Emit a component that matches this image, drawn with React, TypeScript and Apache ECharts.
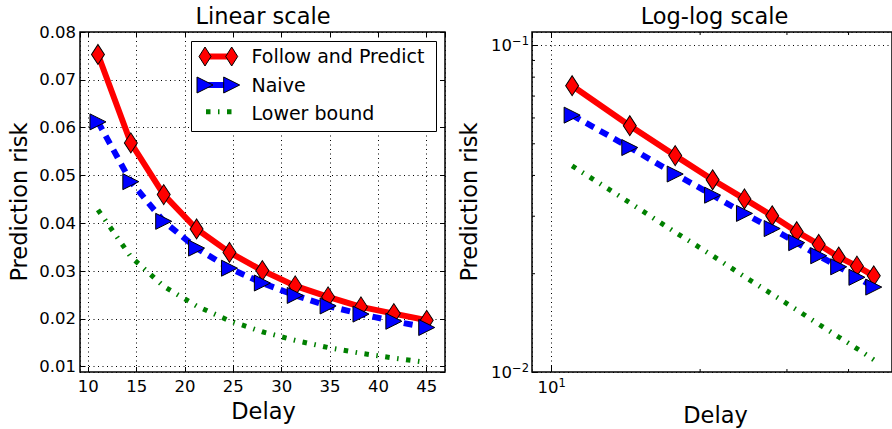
import React, { useEffect, useRef } from "react";
import * as echarts from "echarts";

// ---- data ----
const delays = [11, 14.4, 17.8, 21.2, 24.6, 28, 31.4, 34.8, 38.2, 41.6, 45];
const followPredict = [0.0753, 0.0568, 0.046, 0.0388, 0.0339, 0.0301, 0.0269, 0.0246, 0.0225, 0.0211, 0.0197];
const naive = [0.0612, 0.0487, 0.0404, 0.0348, 0.0306, 0.0275, 0.0249, 0.0227, 0.021, 0.0195, 0.0182];
const lowerBound = [0.0428, 0.033, 0.0268, 0.0227, 0.0196, 0.0173, 0.0155, 0.014, 0.0128, 0.0118, 0.0109];

const seriesNames = ["Follow and Predict", "Naive", "Lower bound"];
const titles = ["Linear scale", "Log-log scale"];
const xLabel = "Delay";
const yLabel = "Prediction risk";

// axis extents
const linX = [9.142, 46.89];
const linY = [0.00889, 0.08];
const logX = [9.12, 49.0];
const logY = [0.01, 0.11];
const logXMinor = [20, 30, 40];
const logYMinor = [0.02, 0.03, 0.04, 0.05, 0.06, 0.07, 0.08, 0.09];

const FONT = '"DejaVu Sans", "Liberation Sans", sans-serif';
const TICK_FS = 16.5;
const LABEL_FS = 22.5;
const LEGEND_FS = 19;

const pairs = (ys: number[]) => delays.map((x, i) => [x, ys[i]]);

const dotted = { color: "#000", width: 1, type: [1, 3.5] as number[] };

function supFormatter(v: number) {
  const e = Math.round(Math.log10(v));
  const s = (e < 0 ? "\u2212" : "") + Math.abs(e);
  return "{b|10}{s|" + s + "}";
}
const supRich = {
  b: { fontSize: TICK_FS, fontFamily: FONT, color: "#000" },
  s: { fontSize: 11.5, fontFamily: FONT, color: "#000", padding: [0, 0, 9, 0] },
};

function makeSeries(xi: number, yi: number) {
  return [
    {
      name: seriesNames[0],
      type: "line",
      xAxisIndex: xi,
      yAxisIndex: yi,
      data: pairs(followPredict),
      symbol: "diamond",
      symbolSize: [13, 20],
      lineStyle: { color: "#ff0000", width: 6 },
      itemStyle: { color: "#ff0000", borderColor: "#000", borderWidth: 1 },
      z: 2,
      silent: true,
      emphasis: { disabled: true },
    },
    {
      name: seriesNames[1],
      type: "line",
      xAxisIndex: xi,
      yAxisIndex: yi,
      data: pairs(naive),
      symbol: "triangle",
      symbolRotate: -90,
      symbolSize: [16, 16],
      lineStyle: { color: "#0000ff", width: 6, type: [9, 7] },
      itemStyle: { color: "#0000ff", borderColor: "#000", borderWidth: 1 },
      z: 3,
      silent: true,
      emphasis: { disabled: true },
    },
    {
      name: seriesNames[2],
      type: "line",
      xAxisIndex: xi,
      yAxisIndex: yi,
      data: pairs(lowerBound),
      symbol: "none",
      lineStyle: { color: "#008000", width: 5, type: [4.5, 7.5, 1.5, 7.5] },
      z: 4,
      silent: true,
      emphasis: { disabled: true },
    },
  ];
}

function txt(text: string, x: number, y: number, fs: number, extra: any = {}) {
  return {
    type: "text",
    x,
    y,
    silent: true,
    z: 100,
    ...extra,
    style: {
      text,
      fontSize: fs,
      fontFamily: FONT,
      fill: "#000",
      align: extra.align || "center",
      verticalAlign: "middle",
    },
  };
}

function legendGraphics() {
  const g: any[] = [];
  g.push({
    type: "rect",
    z: 100,
    silent: true,
    shape: { x: 191.5, y: 41.5, width: 245, height: 90 },
    style: { fill: "#fff", stroke: "#000", lineWidth: 1 },
  });
  const r1 = 56.5, r2 = 85, r3 = 111.7;
  const xa = 205, xb = 231.7;
  g.push({ type: "line", z: 101, silent: true, shape: { x1: xa, y1: r1, x2: xb, y2: r1 }, style: { stroke: "#ff0000", lineWidth: 6 } });
  [xa, xb].forEach((cx) =>
    g.push({
      type: "polygon", z: 102, silent: true,
      shape: { points: [[cx, r1 - 9.5], [cx + 6, r1], [cx, r1 + 9.5], [cx - 6, r1]] },
      style: { fill: "#ff0000", stroke: "#000", lineWidth: 1 },
    })
  );
  g.push({ type: "line", z: 101, silent: true, shape: { x1: xa, y1: r2, x2: xb, y2: r2 }, style: { stroke: "#0000ff", lineWidth: 6 } });
  [xa, xb].forEach((cx) =>
    g.push({
      type: "polygon", z: 102, silent: true,
      shape: { points: [[cx - 8, r2 - 8], [cx + 8, r2], [cx - 8, r2 + 8]] },
      style: { fill: "#0000ff", stroke: "#000", lineWidth: 1 },
    })
  );
  g.push({
    type: "line", z: 101, silent: true,
    shape: { x1: 206, y1: r3, x2: 231.5, y2: r3 },
    style: { stroke: "#008000", lineWidth: 5, lineDash: [4.5, 7.5, 1.5, 7.5] },
  });
  g.push(txt(seriesNames[0], 251.5, 56.3, LEGEND_FS, { align: "left" }));
  g.push(txt(seriesNames[1], 251.5, 85.2, LEGEND_FS, { align: "left" }));
  g.push(txt(seriesNames[2], 251.5, 113, LEGEND_FS, { align: "left" }));
  return g;
}

function staticGraphics() {
  return [
    txt(titles[0], 263, 16, LABEL_FS),
    txt(titles[1], 714.5, 16, LABEL_FS),
    txt(xLabel, 263.5, 411, LABEL_FS),
    txt(xLabel, 715.5, 415, LABEL_FS),
    txt(yLabel, 19, 202, LABEL_FS, { rotation: Math.PI / 2 }),
    txt(yLabel, 469, 202, LABEL_FS, { rotation: Math.PI / 2 }),
    ...legendGraphics(),
  ];
}

export default function App() {
  const ref = useRef<HTMLDivElement>(null);
  useEffect(() => {
    if (!ref.current) return;
    const chart = echarts.init(ref.current, undefined, { renderer: "svg" });
    const tickStyle = { inside: true, length: 5, lineStyle: { color: "#000", width: 1 } };
    const linLabel = { fontSize: TICK_FS, fontFamily: FONT, color: "#000", showMinLabel: false, showMaxLabel: false };
    const option: any = {
      animation: false,
      backgroundColor: "#fff",
      grid: [
        { left: 80, top: 32, width: 365, height: 340, show: true, borderColor: "#000", borderWidth: 1.5, backgroundColor: "transparent" },
        { left: 532, top: 32, width: 365, height: 340, show: true, borderColor: "#000", borderWidth: 1.5, backgroundColor: "transparent" },
      ],
      xAxis: [
        {
          gridIndex: 0, type: "value", position: "bottom", min: linX[0], max: linX[1], splitNumber: 7,
          axisLine: { show: false }, axisTick: tickStyle,
          axisLabel: { ...linLabel, margin: 6 },
          splitLine: { show: true, lineStyle: dotted },
        },
        {
          gridIndex: 0, type: "value", position: "top", min: linX[0], max: linX[1], splitNumber: 7,
          axisLine: { show: false }, axisTick: tickStyle, axisLabel: { show: false }, splitLine: { show: false },
        },
        {
          gridIndex: 1, type: "log", logBase: 10, position: "bottom", min: logX[0], max: logX[1],
          axisLine: { show: false }, axisTick: { ...tickStyle, length: 6 },
          axisLabel: { formatter: supFormatter, rich: supRich, margin: 5, showMinLabel: false, showMaxLabel: false },
          splitLine: { show: true, lineStyle: dotted },
        },
        {
          gridIndex: 1, type: "log", logBase: 10, position: "top", min: logX[0], max: logX[1],
          axisLine: { show: false }, axisTick: { ...tickStyle, length: 6 }, axisLabel: { show: false }, splitLine: { show: false },
        },
      ],
      yAxis: [
        {
          gridIndex: 0, type: "value", position: "left", min: linY[0], max: linY[1], splitNumber: 7,
          axisLine: { show: false }, axisTick: tickStyle,
          axisLabel: { ...linLabel, showMaxLabel: true, margin: 4 },
          splitLine: { show: true, lineStyle: dotted },
        },
        {
          gridIndex: 0, type: "value", position: "right", min: linY[0], max: linY[1], splitNumber: 7,
          axisLine: { show: false }, axisTick: tickStyle, axisLabel: { show: false }, splitLine: { show: false },
        },
        {
          gridIndex: 1, type: "log", logBase: 10, position: "left", min: logY[0], max: logY[1],
          axisLine: { show: false }, axisTick: { ...tickStyle, length: 6 },
          axisLabel: { formatter: supFormatter, rich: supRich, margin: 3, showMinLabel: true, showMaxLabel: false },
          splitLine: { show: true, lineStyle: dotted },
        },
      ],
      series: [...makeSeries(0, 0), ...makeSeries(2, 2)],
      graphic: { elements: staticGraphics() },
    };
    chart.setOption(option);

    // minor ticks on the log-log panel, positioned through the axes
    const minor: any[] = [];
    const yTop = chart.convertToPixel({ yAxisIndex: 2 }, logY[1]) as number;
    const yBot = chart.convertToPixel({ yAxisIndex: 2 }, logY[0]) as number;
    const xLeft = chart.convertToPixel({ xAxisIndex: 2 }, logX[0]) as number;
    logXMinor.forEach((v) => {
      const px = chart.convertToPixel({ xAxisIndex: 2 }, v) as number;
      minor.push({ type: "line", z: 50, silent: true, shape: { x1: px, y1: yBot, x2: px, y2: yBot - 3 }, style: { stroke: "#000", lineWidth: 1 } });
      minor.push({ type: "line", z: 50, silent: true, shape: { x1: px, y1: yTop, x2: px, y2: yTop + 3 }, style: { stroke: "#000", lineWidth: 1 } });
    });
    logYMinor.forEach((v) => {
      const py = chart.convertToPixel({ yAxisIndex: 2 }, v) as number;
      minor.push({ type: "line", z: 50, silent: true, shape: { x1: xLeft, y1: py, x2: xLeft + 3, y2: py }, style: { stroke: "#000", lineWidth: 1 } });
    });
    chart.setOption({ graphic: { elements: [...staticGraphics(), ...minor] } });

    return () => chart.dispose();
  }, []);
  return <div ref={ref} style={{ position: "absolute", left: 0, top: 0, width: 892, height: 429 }} />;
}
